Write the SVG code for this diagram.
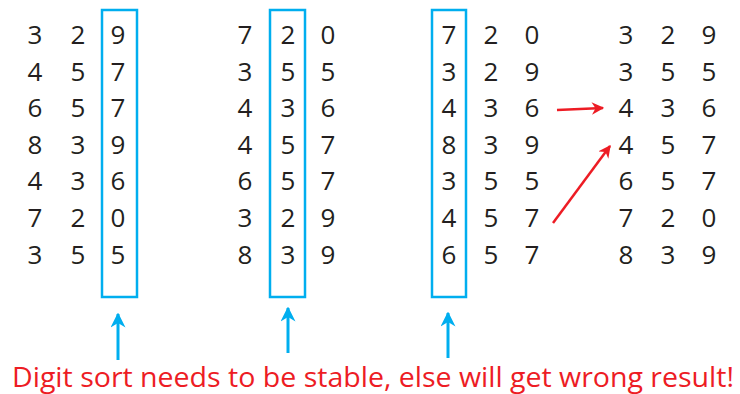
<svg xmlns="http://www.w3.org/2000/svg" width="740" height="394" viewBox="0 0 740 394">
  <defs>
    <marker id="blueHead" viewBox="0 0 10 10" refX="9" refY="5" markerWidth="5" markerHeight="5" orient="auto" markerUnits="strokeWidth">
      <path d="M0,0 L10,5 L0,10 L3,5 Z" fill="#00AEEF"/>
    </marker>
    <marker id="redHead" viewBox="0 0 10 10" refX="9" refY="5" markerWidth="5" markerHeight="5" orient="auto" markerUnits="strokeWidth">
      <path d="M0,0 L10,5 L0,10 L3,5 Z" fill="#ED1C24"/>
    </marker>
  </defs>
  <style>
    .d { font-family: "Open Sans", "Noto Sans", sans-serif; font-size: 26px; fill: #231F20; text-anchor: middle; }
    .box { fill: none; stroke: #00AEEF; stroke-width: 2.5; }
    .up { stroke: #00AEEF; stroke-width: 3; fill: none; marker-end: url(#blueHead); }
    .red { stroke: #ED1C24; stroke-width: 2.5; fill: none; marker-end: url(#redHead); }
    .note { font-family: "Open Sans", "Noto Sans", sans-serif; font-size: 28px; fill: #ED1C24; }
  </style>
  <rect width="740" height="394" fill="#ffffff"/>

  <!-- input -->
  <g id="col-input">
    <text class="d" x="35" y="44">3</text><text class="d" x="78" y="44">2</text><text class="d" x="118" y="44">9</text>
    <text class="d" x="35" y="81">4</text><text class="d" x="78" y="81">5</text><text class="d" x="118" y="81">7</text>
    <text class="d" x="35" y="117">6</text><text class="d" x="78" y="117">5</text><text class="d" x="118" y="117">7</text>
    <text class="d" x="35" y="154">8</text><text class="d" x="78" y="154">3</text><text class="d" x="118" y="154">9</text>
    <text class="d" x="35" y="190">4</text><text class="d" x="78" y="190">3</text><text class="d" x="118" y="190">6</text>
    <text class="d" x="35" y="227">7</text><text class="d" x="78" y="227">2</text><text class="d" x="118" y="227">0</text>
    <text class="d" x="35" y="264">3</text><text class="d" x="78" y="264">5</text><text class="d" x="118" y="264">5</text>
    <rect class="box" x="102" y="10" width="35" height="287"/>
  </g>

  <!-- after sorting on the last digit -->
  <g id="col-pass1">
    <text class="d" x="245" y="44">7</text><text class="d" x="288" y="44">2</text><text class="d" x="328" y="44">0</text>
    <text class="d" x="245" y="81">3</text><text class="d" x="288" y="81">5</text><text class="d" x="328" y="81">5</text>
    <text class="d" x="245" y="117">4</text><text class="d" x="288" y="117">3</text><text class="d" x="328" y="117">6</text>
    <text class="d" x="245" y="154">4</text><text class="d" x="288" y="154">5</text><text class="d" x="328" y="154">7</text>
    <text class="d" x="245" y="190">6</text><text class="d" x="288" y="190">5</text><text class="d" x="328" y="190">7</text>
    <text class="d" x="245" y="227">3</text><text class="d" x="288" y="227">2</text><text class="d" x="328" y="227">9</text>
    <text class="d" x="245" y="264">8</text><text class="d" x="288" y="264">3</text><text class="d" x="328" y="264">9</text>
    <rect class="box" x="270" y="10" width="35" height="287"/>
  </g>

  <!-- after sorting on the middle digit -->
  <g id="col-pass2">
    <text class="d" x="449" y="44">7</text><text class="d" x="491" y="44">2</text><text class="d" x="532" y="44">0</text>
    <text class="d" x="449" y="81">3</text><text class="d" x="491" y="81">2</text><text class="d" x="532" y="81">9</text>
    <text class="d" x="449" y="117">4</text><text class="d" x="491" y="117">3</text><text class="d" x="532" y="117">6</text>
    <text class="d" x="449" y="154">8</text><text class="d" x="491" y="154">3</text><text class="d" x="532" y="154">9</text>
    <text class="d" x="449" y="190">3</text><text class="d" x="491" y="190">5</text><text class="d" x="532" y="190">5</text>
    <text class="d" x="449" y="227">4</text><text class="d" x="491" y="227">5</text><text class="d" x="532" y="227">7</text>
    <text class="d" x="449" y="264">6</text><text class="d" x="491" y="264">5</text><text class="d" x="532" y="264">7</text>
    <rect class="box" x="432" y="10" width="34" height="287"/>
  </g>

  <!-- sorted result -->
  <g id="col-result">
    <text class="d" x="626" y="44">3</text><text class="d" x="668" y="44">2</text><text class="d" x="709" y="44">9</text>
    <text class="d" x="626" y="81">3</text><text class="d" x="668" y="81">5</text><text class="d" x="709" y="81">5</text>
    <text class="d" x="626" y="117">4</text><text class="d" x="668" y="117">3</text><text class="d" x="709" y="117">6</text>
    <text class="d" x="626" y="154">4</text><text class="d" x="668" y="154">5</text><text class="d" x="709" y="154">7</text>
    <text class="d" x="626" y="190">6</text><text class="d" x="668" y="190">5</text><text class="d" x="709" y="190">7</text>
    <text class="d" x="626" y="227">7</text><text class="d" x="668" y="227">2</text><text class="d" x="709" y="227">0</text>
    <text class="d" x="626" y="264">8</text><text class="d" x="668" y="264">3</text><text class="d" x="709" y="264">9</text>
  </g>

  <g id="connectors">
    <line class="up" x1="118" y1="360" x2="118" y2="314"/>
    <line class="up" x1="288" y1="353" x2="288" y2="308"/>
    <line class="up" x1="448" y1="358" x2="448" y2="313"/>
    <line class="red" x1="557" y1="110" x2="603" y2="108"/>
    <line class="red" x1="553" y1="223" x2="610" y2="146"/>
  </g>

  <g id="caption">
    <text class="note" x="12" y="387" textLength="722" lengthAdjust="spacingAndGlyphs">Digit sort needs to be stable, else will get wrong result!</text>
  </g>
</svg>
